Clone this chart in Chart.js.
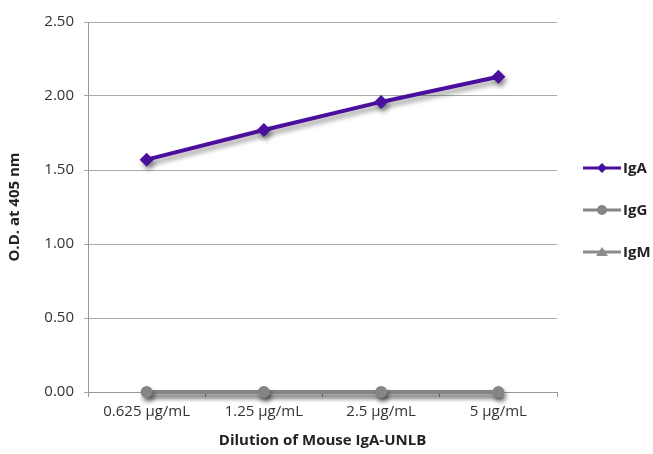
<!DOCTYPE html>
<html>
<head>
<meta charset="utf-8">
<script src="https://cdn.jsdelivr.net/npm/chart.js@4/dist/chart.umd.min.js"></script>
<style>
  html, body { margin: 0; padding: 0; background: #fff; }
  #wrap { width: 653px; height: 454px; }
</style>
</head>
<body>
<div id="wrap"><canvas id="grafico"></canvas></div>
<script>
// dados
const diluicoes = ["0.625 µg/mL", "1.25 µg/mL", "2.5 µg/mL", "5 µg/mL"];
const valoresIgA = [1.57, 1.77, 1.96, 2.13];
const valoresIgG = [0, 0, 0, 0];
const valoresIgM = [0, 0, 0, 0];
const ticksY = [0, 0.5, 1, 1.5, 2, 2.5];

const fonte = "'Open Sans', 'Noto Sans', sans-serif";

// sombra nas linhas, como no original
const sombra = {
    id: "sombra",
    beforeDatasetsDraw(chart) {
        const ctx = chart.ctx;
        ctx.save();
        ctx.shadowColor = "rgba(0,0,0,0.4)";
        ctx.shadowBlur = 5;
        ctx.shadowOffsetX = 2;
        ctx.shadowOffsetY = 4;
    },
    afterDatasetsDraw(chart) {
        chart.ctx.restore();
    }
};

// legenda com linha + marcador
const legenda = {
    id: "legenda",
    afterDraw(chart) {
        const ctx = chart.ctx;
        const x0 = 583, x1 = 621;
        const ys = [168, 210, 252];
        chart.data.datasets.forEach((ds, i) => {
            const y = ys[i];
            ctx.save();
            ctx.strokeStyle = ds.borderColor;
            ctx.lineWidth = 3;
            ctx.beginPath();
            ctx.moveTo(x0, y);
            ctx.lineTo(x1, y);
            ctx.stroke();
            ctx.fillStyle = ds.pointBackgroundColor;
            const cx = (x0 + x1) / 2;
            ctx.beginPath();
            if (ds.pointStyle === "rectRot") {
                ctx.moveTo(cx, y - 5); ctx.lineTo(cx + 5, y); ctx.lineTo(cx, y + 5); ctx.lineTo(cx - 5, y);
            } else if (ds.pointStyle === "triangle") {
                ctx.moveTo(cx, y - 5); ctx.lineTo(cx + 6, y + 4); ctx.lineTo(cx - 6, y + 4);
            } else {
                ctx.arc(cx, y, 5, 0, Math.PI * 2);
            }
            ctx.closePath();
            ctx.fill();
            ctx.fillStyle = "#222";
            ctx.font = "bold 15px " + fonte;
            ctx.textBaseline = "middle";
            ctx.fillText(ds.label, x1 + 2, y + 1);
            ctx.restore();
        });
    }
};

new Chart(document.getElementById("grafico"), {
    type: "line",
    data: {
        labels: diluicoes,
        datasets: [
            {
                label: "IgA",
                data: valoresIgA,
                borderColor: "#4b0f9e",
                backgroundColor: "#4b0f9e",
                pointBackgroundColor: "#4b0f9e",
                pointBorderWidth: 0,
                borderWidth: 4,
                pointStyle: "rectRot",
                pointRadius: 7,
                clip: false
            },
            {
                label: "IgG",
                data: valoresIgG,
                borderColor: "#858585",
                backgroundColor: "#858585",
                pointBackgroundColor: "#858585",
                pointBorderWidth: 0,
                borderWidth: 4,
                pointStyle: "circle",
                pointRadius: 6,
                clip: false
            },
            {
                label: "IgM",
                data: valoresIgM,
                borderColor: "#8c8c8c",
                backgroundColor: "#8c8c8c",
                pointBackgroundColor: "#8c8c8c",
                pointBorderWidth: 0,
                borderWidth: 4,
                pointStyle: "triangle",
                pointRadius: 6,
                clip: false
            }
        ]
    },
    options: {
        responsive: true,
        maintainAspectRatio: false,
        animation: false,
        layout: { padding: { top: 22, right: 96, left: 0, bottom: 0 } },
        plugins: {
            legend: { display: false },
            tooltip: { enabled: false }
        },
        scales: {
            x: {
                offset: true,
                grid: {
                    offset: true,
                    drawOnChartArea: false,
                    color: "#999",
                    tickLength: 5
                },
                border: { color: "#999", width: 1 },
                ticks: {
                    color: "#333",
                    font: { family: fonte, size: 15 },
                    padding: 6
                },
                title: {
                    display: true,
                    text: "Dilution of Mouse IgA-UNLB",
                    color: "#222",
                    font: { family: fonte, size: 15, weight: "bold" },
                    padding: { top: 8 }
                },
                afterFit(scale) { scale.height = 62; }
            },
            y: {
                min: 0,
                max: 2.5,
                afterBuildTicks(scale) {
                    scale.ticks = ticksY.map(v => ({ value: v }));
                },
                grid: {
                    color: "#aaa",
                    tickLength: 4
                },
                border: { color: "#999", width: 1 },
                ticks: {
                    color: "#333",
                    font: { family: fonte, size: 15 },
                    padding: 10,
                    callback: v => Number(v).toFixed(2)
                },
                title: {
                    display: true,
                    text: "O.D. at 405 nm",
                    color: "#222",
                    font: { family: fonte, size: 15, weight: "bold" },
                    padding: { top: 6, bottom: 6 }
                },
                afterFit(scale) { scale.width = 88; }
            }
        }
    },
    plugins: [sombra, legenda]
});
</script>
</body>
</html>
